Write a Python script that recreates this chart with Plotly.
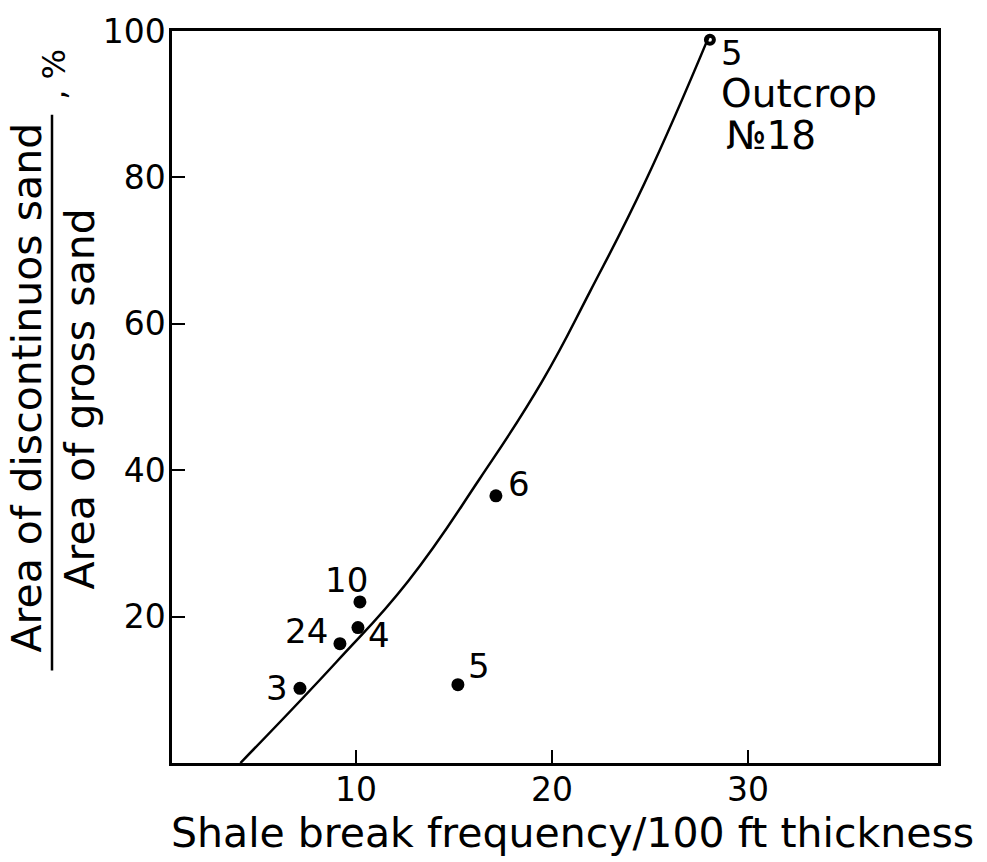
import plotly.graph_objects as go

# ---- data ----
pt_x = [7.14, 9.18, 10.10, 10.20, 15.2, 17.14, 28.06]
pt_y = [10.2, 16.3, 18.5, 22.0, 10.7, 36.5, 98.8]
pt_labels = ["3", "24", "4", "10", "5", "6", "5"]
# label offsets (px) relative to each point
lab_dx = [-23, -33, 21, -13, 21, 23, 22]
lab_dy = [0, 13, -7, 22, 19, 12, -13]

curve_x = [4.1, 9.0, 12.65, 16.33, 19.49, 21.94, 24.74, 28.0]
curve_y = [0.0, 13.8, 24.8, 38.9, 52.1, 64.4, 79.3, 99.2]

x_ticks = [10, 20, 30]
y_ticks = [20, 40, 60, 80, 100]

FONT = "DejaVu Sans"

fig = go.Figure()
fig.add_trace(go.Scatter(x=curve_x, y=curve_y, mode="lines",
                         line=dict(color="black", width=2.5, shape="spline", smoothing=1.3),
                         hoverinfo="skip", showlegend=False))
fig.add_trace(go.Scatter(x=pt_x[:-1], y=pt_y[:-1], mode="markers",
                         marker=dict(color="black", size=13, symbol="circle"),
                         showlegend=False))
fig.add_trace(go.Scatter(x=pt_x[-1:], y=pt_y[-1:], mode="markers",
                         marker=dict(color="black", size=8, symbol="circle-open",
                                     line=dict(color="black", width=4)),
                         showlegend=False))

for x, y, t, dx, dy in zip(pt_x, pt_y, pt_labels, lab_dx, lab_dy):
    fig.add_annotation(x=x, y=y, text=t, showarrow=False, xshift=dx, yshift=dy,
                       xanchor="center", yanchor="middle",
                       font=dict(family=FONT, size=34, color="black"))

# Outcrop text below the top point label
fig.add_annotation(x=pt_x[-1], y=pt_y[-1], text="Outcrop", showarrow=False,
                   xanchor="left", yanchor="middle", xshift=9, yshift=-54,
                   font=dict(family=FONT, size=39, color="black"))
fig.add_annotation(x=pt_x[-1], y=pt_y[-1], text="№18", showarrow=False,
                   xanchor="left", yanchor="middle", xshift=14, yshift=-96,
                   font=dict(family=FONT, size=39, color="black"))

# y-axis title as fraction
L, W, B, H = 172, 766, 763, 735
def px(xp):
    return (xp - L) / W
def py(yp):
    return (B - yp) / H

TS = 41
fig.add_annotation(xref="paper", yref="paper", x=px(27), y=py(386),
                   xanchor="center", yanchor="middle",
                   text="Area of discontinuos sand", textangle=-90, showarrow=False,
                   font=dict(family=FONT, size=TS, color="black"))
fig.add_annotation(xref="paper", yref="paper", x=px(80), y=py(398),
                   xanchor="center", yanchor="middle",
                   text="Area of gross sand", textangle=-90, showarrow=False,
                   font=dict(family=FONT, size=TS, color="black"))
fig.add_annotation(xref="paper", yref="paper", x=px(54), y=py(72),
                   xanchor="center", yanchor="middle",
                   text=", %", textangle=-90, showarrow=False,
                   font=dict(family=FONT, size=32, color="black"))
fig.add_shape(type="line", xref="paper", yref="paper",
              x0=px(52), x1=px(52), y0=py(112), y1=py(670),
              line=dict(color="black", width=2.5))

# x title
fig.add_annotation(xref="paper", yref="paper", x=px(572), y=py(833),
                   xanchor="center", yanchor="middle",
                   text="Shale break frequency/100 ft thickness", showarrow=False,
                   font=dict(family=FONT, size=41, color="black"))

fig.update_xaxes(range=[0.61, 39.7], tickvals=x_ticks, ticks="inside", ticklen=13,
                 tickwidth=2, tickcolor="black", showline=True, linecolor="black",
                 linewidth=2.5, mirror=True, showgrid=False, zeroline=False,
                 ticklabelstandoff=-4,
                 tickfont=dict(family=FONT, size=33, color="black"))
fig.update_yaxes(range=[0, 100], tickvals=y_ticks, ticks="inside", ticklen=13,
                 tickwidth=2, tickcolor="black", showline=True, linecolor="black",
                 linewidth=2.5, mirror=True, showgrid=False, zeroline=False,
                 ticklabelstandoff=-3,
                 tickfont=dict(family=FONT, size=33, color="black"))

fig.update_layout(width=987, height=862, margin=dict(l=172, r=49, t=28, b=99),
                  paper_bgcolor="white", plot_bgcolor="white", showlegend=False)

fig.write_html("out.html")
